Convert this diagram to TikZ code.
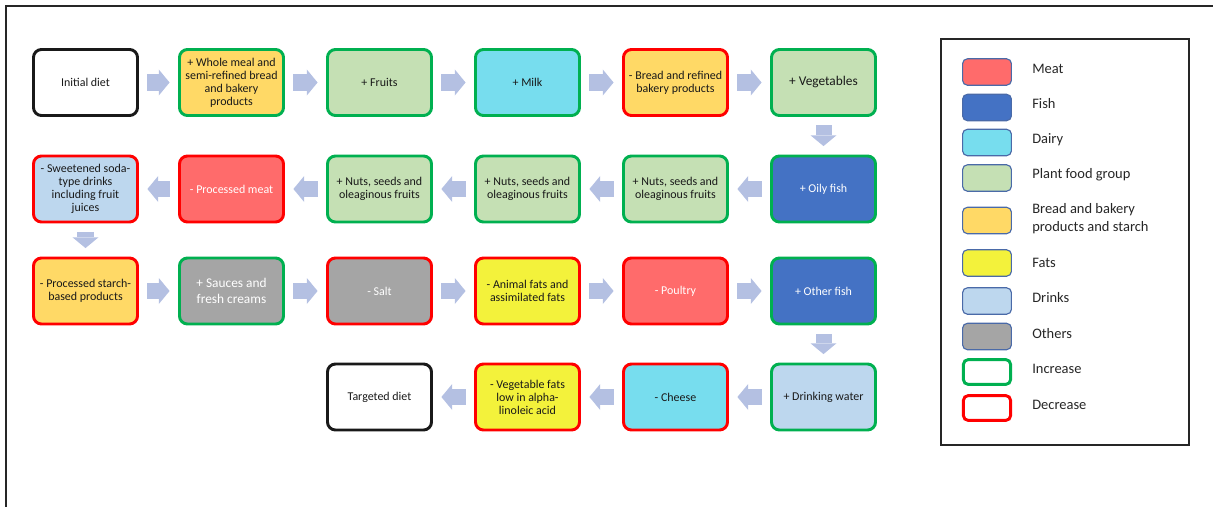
\documentclass[tikz,border=0pt]{standalone}
\usepackage{fontspec}
\setmainfont{Carlito}
\usetikzlibrary{arrows.meta}
\definecolor{meatc}{HTML}{FF6B6B}
\definecolor{fishc}{HTML}{4472C4}
\definecolor{dairyc}{HTML}{77DDEE}
\definecolor{plantc}{HTML}{C5E0B4}
\definecolor{breadc}{HTML}{FFD966}
\definecolor{fatsc}{HTML}{F3F23B}
\definecolor{drinkc}{HTML}{BDD7EE}
\definecolor{otherc}{HTML}{A5A5A5}
\definecolor{incgreen}{HTML}{00B050}
\definecolor{decred}{HTML}{FF0000}
\definecolor{arrowc}{HTML}{B4C0E2}
\definecolor{swatchline}{HTML}{4A6AA8}
\tikzset{
  food/.style={draw, rounded corners=0.2cm, line width=2.1pt, minimum width=2.6cm,
    minimum height=1.65cm, inner sep=1pt, align=center, text=black!90,
    font=\fontsize{8.5}{9.3}\selectfont},
  incbox/.style={food, draw=incgreen},
  decbox/.style={food, draw=decred},
  endbox/.style={food, draw=black!90, fill=white},
  bigtext/.style={font=\fontsize{9.5}{11}\selectfont},
  flow/.style={draw=arrowc, line width=0.4cm,
    -{Triangle[length=0.27cm, width=0.65cm, line width=0pt]},
    shorten <=0.21cm, shorten >=0.21cm},
  swatch/.style={draw=swatchline, line width=0.8pt, rounded corners=0.12cm,
    minimum width=1.22cm, minimum height=0.66cm},
  keybox/.style={draw, line width=2.1pt, rounded corners=0.12cm,
    minimum width=1.18cm, minimum height=0.62cm, fill=white},
  keytext/.style={anchor=west, inner sep=0pt, align=left, text=black!85,
    font=\fontsize{10.3}{12.8}\selectfont}
}
\begin{document}
\begin{tikzpicture}[x=0.025cm, y=-0.025cm]
    \useasboundingbox (0,0) rectangle (1213,507);

    % frame
    \draw[line width=0.04cm, black!85] (6,507) -- (6,6) -- (1213,6);

    % row 1 (left to right)
    \node[endbox] (init) at (85.5,82.5) {Initial diet};
    \node[incbox, fill=breadc] (wholemeal) at (231.5,82.5) {+ Whole meal and\\semi-refined bread\\and bakery\\products};
    \node[incbox, fill=plantc] (fruits) at (379.5,82.5) {+ Fruits};
    \node[incbox, fill=dairyc] (milk) at (527.5,82.5) {+ Milk};
    \node[decbox, fill=breadc] (refined) at (675.5,82.5) {- Bread and refined\\bakery products};
    \node[incbox, fill=plantc, bigtext] (veg) at (823.5,82.5) {+ Vegetables};

    % row 2 (right to left)
    \node[incbox, fill=fishc, text=white] (oily) at (823.5,189) {+ Oily fish};
    \node[incbox, fill=plantc] (nutsA) at (675.5,189) {+ Nuts, seeds and\\oleaginous fruits};
    \node[incbox, fill=plantc] (nutsB) at (527.5,189) {+ Nuts, seeds and\\oleaginous fruits};
    \node[incbox, fill=plantc] (nutsC) at (379.5,189) {+ Nuts, seeds and\\oleaginous fruits};
    \node[decbox, fill=meatc, text=white] (procmeat) at (231.5,189) {- Processed meat};
    \node[decbox, fill=drinkc] (soda) at (85.5,189) {- Sweetened soda-\\type drinks\\including fruit\\juices};

    % row 3 (left to right)
    \node[decbox, fill=breadc] (starch) at (85.5,291) {- Processed starch-\\based products};
    \node[incbox, fill=otherc, text=white, bigtext] (sauces) at (231.5,291) {+ Sauces and\\fresh creams};
    \node[decbox, fill=otherc, text=white] (salt) at (379.5,291) {- Salt};
    \node[decbox, fill=fatsc] (animal) at (527.5,291) {- Animal fats and\\assimilated fats};
    \node[decbox, fill=meatc, text=white] (poultry) at (675.5,291) {- Poultry};
    \node[incbox, fill=fishc, text=white] (otherfish) at (823.5,291) {+ Other fish};

    % row 4 (right to left)
    \node[incbox, fill=drinkc] (water) at (823.5,397) {+ Drinking water};
    \node[decbox, fill=dairyc] (cheese) at (675.5,397) {- Cheese};
    \node[decbox, fill=fatsc] (vegfats) at (527.5,397) {- Vegetable fats\\low in alpha-\\linoleic acid};
    \node[endbox] (target) at (379.5,397) {Targeted diet};

    % block arrows
    \draw[flow] (init) -- (wholemeal);
    \draw[flow] (wholemeal) -- (fruits);
    \draw[flow] (fruits) -- (milk);
    \draw[flow] (milk) -- (refined);
    \draw[flow] (refined) -- (veg);
    \draw[flow] (veg) -- (oily);
    \draw[flow] (oily) -- (nutsA);
    \draw[flow] (nutsA) -- (nutsB);
    \draw[flow] (nutsB) -- (nutsC);
    \draw[flow] (nutsC) -- (procmeat);
    \draw[flow] (procmeat) -- (soda);
    \draw[flow] (soda) -- (starch);
    \draw[flow] (starch) -- (sauces);
    \draw[flow] (sauces) -- (salt);
    \draw[flow] (salt) -- (animal);
    \draw[flow] (animal) -- (poultry);
    \draw[flow] (poultry) -- (otherfish);
    \draw[flow] (otherfish) -- (water);
    \draw[flow] (water) -- (cheese);
    \draw[flow] (cheese) -- (vegfats);
    \draw[flow] (vegfats) -- (target);

    % legend
    \draw[line width=0.05cm, black!85] (941,39) rectangle (1189,445);
    \node[swatch, fill=meatc] (kmeat) at (987,72) {};
    \node[swatch, fill=fishc] (kfish) at (987,107.5) {};
    \node[swatch, fill=dairyc] (kdairy) at (987,142.5) {};
    \node[swatch, fill=plantc] (kplant) at (987,178) {};
    \node[swatch, fill=breadc] (kbread) at (987,220.5) {};
    \node[swatch, fill=fatsc] (kfats) at (987,263) {};
    \node[swatch, fill=drinkc] (kdrink) at (987,301) {};
    \node[swatch, fill=otherc] (kother) at (987,336.5) {};
    \node[keybox, draw=incgreen] (kinc) at (987,372) {};
    \node[keybox, draw=decred] (kdec) at (987,408) {};

    \node[keytext] at (1032,69) {Meat};
    \node[keytext] at (1032,104) {Fish};
    \node[keytext] at (1032,139.5) {Dairy};
    \node[keytext] at (1032,175) {Plant food group};
    \node[keytext] at (1032,219) {Bread and bakery\\products and starch};
    \node[keytext] at (1032,263) {Fats};
    \node[keytext] at (1032,298) {Drinks};
    \node[keytext] at (1032,334) {Others};
    \node[keytext] at (1032,369) {Increase};
    \node[keytext] at (1032,405) {Decrease};

\end{tikzpicture}
\end{document}
